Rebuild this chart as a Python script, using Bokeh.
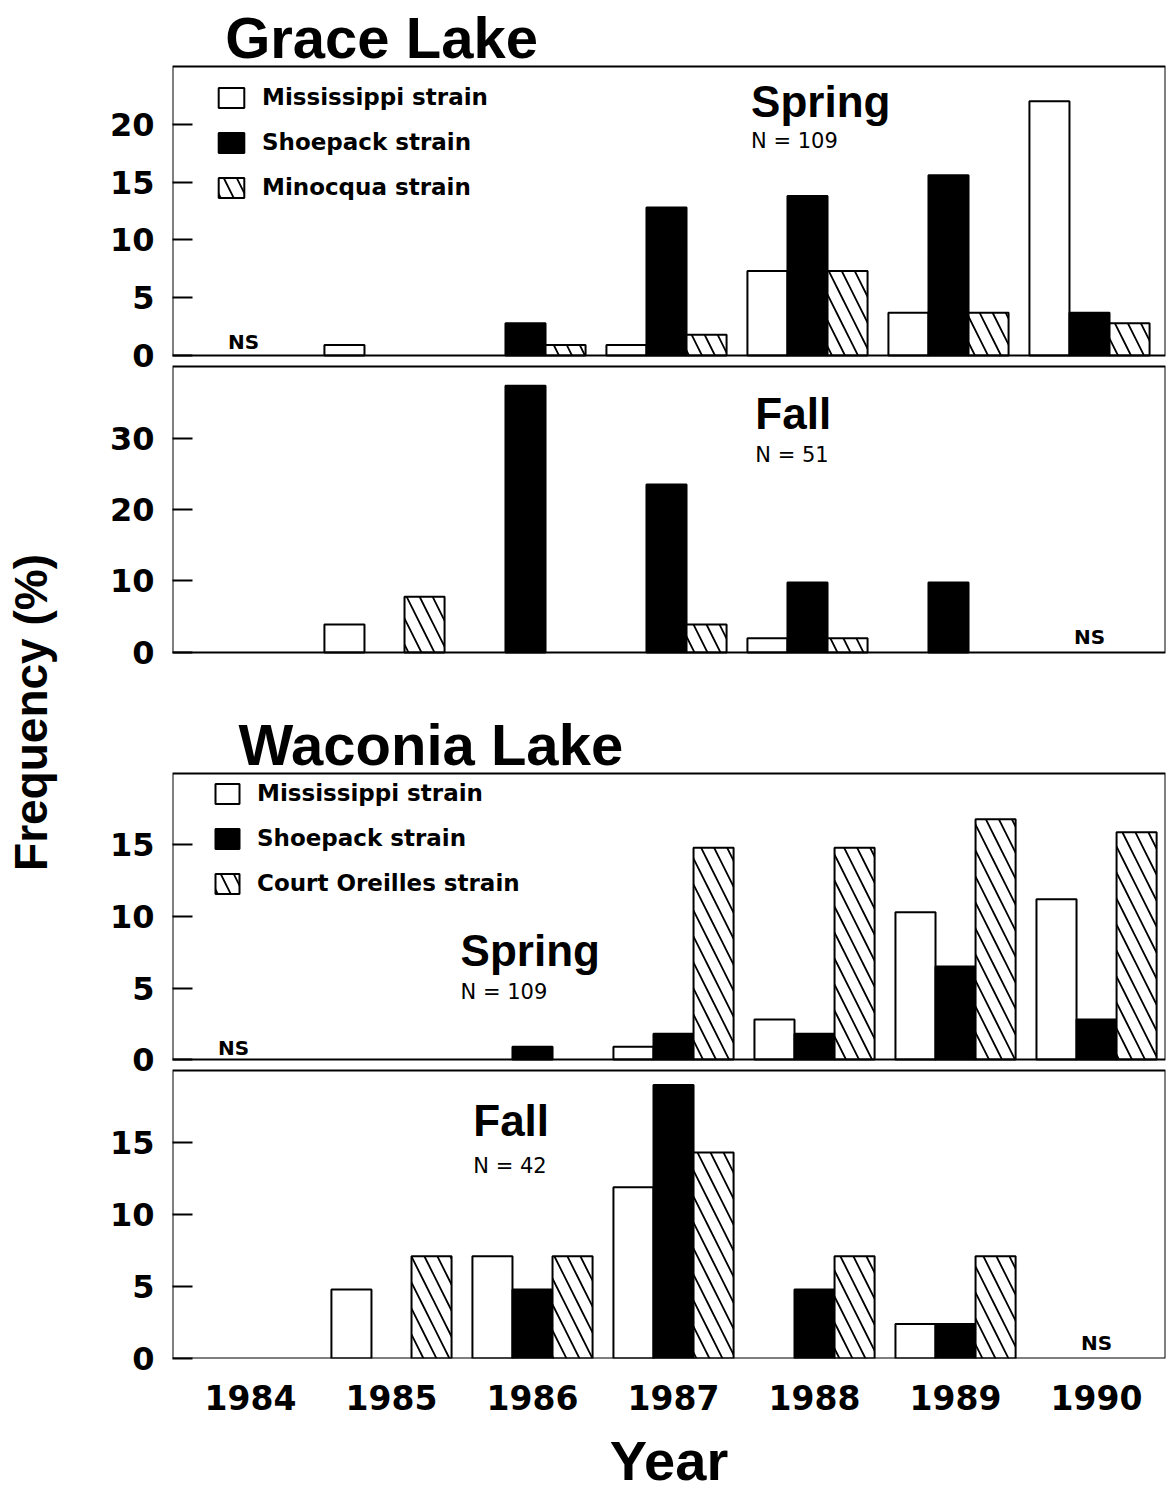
import math
from bokeh.plotting import figure
from bokeh.models import (ColumnDataSource, Range1d, FixedTicker, Label, Legend, LegendItem,
                          LinearAxis, BoxAnnotation)
from bokeh.layouts import row
from bokeh.embed import file_html
from bokeh.resources import INLINE

# ---------------- data (frequency, %) ----------------
years = [1984, 1985, 1986, 1987, 1988, 1989, 1990]
ns = None  # not sampled

# Grace Lake, spring (N = 109)
grace_spring_mississippi = [ns, 0.9, 0.0, 0.9, 7.3, 3.7, 22.0]
grace_spring_shoepack = [ns, 0.0, 2.8, 12.8, 13.8, 15.6, 3.7]
grace_spring_minocqua = [ns, 0.0, 0.9, 1.8, 7.3, 3.7, 2.8]

# Grace Lake, fall (N = 51)
grace_fall_mississippi = [0.0, 3.9, 0.0, 0.0, 2.0, 0.0, ns]
grace_fall_shoepack = [0.0, 0.0, 37.3, 23.5, 9.8, 9.8, ns]
grace_fall_minocqua = [0.0, 7.8, 0.0, 3.9, 2.0, 0.0, ns]

# Waconia Lake, spring (N = 109)
waconia_spring_mississippi = [ns, 0.0, 0.0, 0.9, 2.8, 10.3, 11.2]
waconia_spring_shoepack = [ns, 0.0, 0.9, 1.8, 1.8, 6.5, 2.8]
waconia_spring_court = [ns, 0.0, 0.0, 14.8, 14.8, 16.8, 15.9]

# Waconia Lake, fall (N = 42)
waconia_fall_mississippi = [0.0, 4.8, 7.1, 11.9, 0.0, 2.4, ns]
waconia_fall_shoepack = [0.0, 0.0, 4.8, 19.0, 4.8, 2.4, ns]
waconia_fall_court = [0.0, 7.1, 7.1, 14.3, 7.1, 7.1, ns]

grace_labels = ["Mississippi strain", "Shoepack strain", "Minocqua strain"]
waconia_labels = ["Mississippi strain", "Shoepack strain", "Court Oreilles strain"]

# y ticks of each panel
ticks_grace_spring = [0, 5, 10, 15, 20]
ticks_grace_fall = [0, 10, 20, 30]
ticks_waconia_spring = [0, 5, 10, 15]
ticks_waconia_fall = [0, 5, 10, 15]

# ---------------- styling / layout constants ----------------
BW = 0.284  # bar width in year units
TICK_FONT = "DejaVu Sans"
HEAD_FONT = "Liberation Sans"

STYLES = [
    dict(fill_color="white", line_color="black"),
    dict(fill_color="black", line_color="black"),
    dict(fill_color="white", line_color="black", hatch_pattern="left_diagonal_line",
         hatch_color="black", hatch_scale=26, hatch_weight=1.8),
]

FRAME_W, FRAME_H = 993, 1358          # plotting frame (pixels)
BL, BR = 97, 3
GX = (1983.4965, 1990.539)            # Grace Lake x range
WX = (1983.447, 1990.489)             # Waconia Lake x range

# panel: (top px, bottom px inside frame, y max, y ticks)
PANELS = {
    "A": (66, 355, 25, ticks_grace_spring),
    "B": (366, 652, 40, ticks_grace_fall),
    "C": (773, 1059, 20, ticks_waconia_spring),
    "D": (1070, 1358, 20, ticks_waconia_fall),
}


def panel_range(top, bottom, ymax):
    ppu = (bottom - top) / ymax
    return Range1d(start=-(FRAME_H - bottom) / ppu, end=ymax + top / ppu)


p = figure(frame_width=FRAME_W, frame_height=FRAME_H,
           x_range=Range1d(*GX), y_range=Range1d(start=FRAME_H, end=0),
           toolbar_location=None, output_backend="svg",
           x_axis_location=None, y_axis_location=None,
           min_border_left=BL, min_border_right=BR, min_border_top=0, min_border_bottom=0)
p.outline_line_color = None
p.grid.visible = False
p.background_fill_color = "white"
p.border_fill_color = "white"
p.extra_x_ranges = {"W": Range1d(*WX)}
p.extra_y_ranges = {k: panel_range(t, b, m) for k, (t, b, m, _) in PANELS.items()}

# panel boxes (0 .. y max of each panel's own scale)
for name, (t, b, ymax, ticks) in PANELS.items():
    p.add_layout(BoxAnnotation(bottom=0, top=ymax, y_range_name=name,
                               fill_color=None, fill_alpha=0,
                               line_color="black", line_width=2, line_alpha=1))

# one left axis carrying the ticks of all four panels
tick_pos, tick_lab = [], {}
for name, (t, b, ymax, ticks) in PANELS.items():
    ppu = (b - t) / ymax
    for v in ticks:
        pos = int(round(b - v * ppu))
        tick_pos.append(pos)
        tick_lab[pos] = str(v)

ya = LinearAxis(ticker=FixedTicker(ticks=tick_pos), major_label_overrides=tick_lab)
ya.axis_line_color = None
ya.minor_tick_line_color = None
ya.major_tick_in = 20
ya.major_tick_out = 0
ya.major_tick_line_width = 2
ya.major_tick_line_color = "black"
ya.major_label_standoff = 18
ya.major_label_text_font = TICK_FONT
ya.major_label_text_font_style = "bold"
ya.major_label_text_font_size = "32px"
ya.major_label_text_color = "black"
p.add_layout(ya, "left")

xa = LinearAxis(x_range_name="W", ticker=FixedTicker(ticks=years), axis_label="Year")
xa.axis_line_color = None
xa.minor_tick_line_color = None
xa.major_tick_in = 0
xa.major_tick_out = 0
xa.major_label_standoff = 26
xa.major_label_text_font = TICK_FONT
xa.major_label_text_font_style = "bold"
xa.major_label_text_font_size = "33px"
xa.major_label_text_color = "black"
xa.axis_label_standoff = 16
xa.axis_label_text_font = HEAD_FONT
xa.axis_label_text_font_style = "bold"
xa.axis_label_text_font_size = "56px"
xa.axis_label_text_color = "black"
p.add_layout(xa, "below")


def add_bars(xname, yname, series):
    renderers = []
    for k, vals in enumerate(series):
        off = (k - 1) * BW
        xs = [y + off for y, v in zip(years, vals) if v]
        tops = [v for v in vals if v]
        src = ColumnDataSource(dict(x=xs, top=tops))
        r = p.vbar(x="x", top="top", bottom=0, width=BW, source=src, line_width=2,
                   x_range_name=xname, y_range_name=yname, **STYLES[k])
        renderers.append(r)
    return renderers


def add_legend(renderers, labels, loc, gw):
    items = [LegendItem(label=l, renderers=[r]) for l, r in zip(labels, renderers)]
    lg = Legend(items=items, location=loc, orientation="vertical",
                padding=0, margin=0, spacing=19,
                glyph_width=gw, glyph_height=25, label_height=25, label_standoff=15,
                label_text_font=TICK_FONT, label_text_font_style="bold",
                label_text_font_size="23px", label_text_color="black",
                background_fill_alpha=0, border_line_color=None)
    p.add_layout(lg)


def lift(size_px):
    # screen-pixel lift so that the alphabetic baseline lands where intended
    return round(0.36 * size_px)


def txt(xname, yname, x, y, text, size_px, font=TICK_FONT, style="bold",
        align="left", extra=0):
    p.add_layout(Label(x=x, y=y, x_range_name=xname, y_range_name=yname,
                       y_offset=lift(size_px) + extra, text=text,
                       text_font=font, text_font_style=style,
                       text_font_size=f"{size_px}px", text_color="black",
                       text_align=align, text_baseline="alphabetic"))


# ---------------- Grace Lake ----------------
rA = add_bars("default", "A", [grace_spring_mississippi, grace_spring_shoepack, grace_spring_minocqua])
add_legend(rA, grace_labels, (43, FRAME_H - 200), 32)
txt("default", "A", 1983.87, 25, "Grace Lake", 58, font=HEAD_FONT, extra=8)
txt("default", "A", 1987.6, 20.55, "Spring", 44, font=HEAD_FONT)
txt("default", "A", 1987.6, 17.9, "N = 109", 21, style="normal")
txt("default", "A", 1984.0, 0.6, "NS", 20, align="center")

add_bars("default", "B", [grace_fall_mississippi, grace_fall_shoepack, grace_fall_minocqua])
txt("default", "B", 1987.63, 31.2, "Fall", 44, font=HEAD_FONT)
txt("default", "B", 1987.63, 26.5, "N = 51", 21, style="normal")
txt("default", "B", 1990.0, 1.2, "NS", 20, align="center")

# ---------------- Waconia Lake ----------------
rC = add_bars("W", "C", [waconia_spring_mississippi, waconia_spring_shoepack, waconia_spring_court])
add_legend(rC, waconia_labels, (40, FRAME_H - 896), 30)
txt("W", "C", 1983.915, 20, "Waconia Lake", 58, font=HEAD_FONT, extra=8)
txt("W", "C", 1985.49, 6.47, "Spring", 44, font=HEAD_FONT)
txt("W", "C", 1985.49, 4.13, "N = 109", 21, style="normal")
txt("W", "C", 1983.88, 0.28, "NS", 20, align="center")

add_bars("W", "D", [waconia_fall_mississippi, waconia_fall_shoepack, waconia_fall_court])
txt("W", "D", 1985.58, 15.4, "Fall", 44, font=HEAD_FONT)
txt("W", "D", 1985.58, 12.8, "N = 42", 21, style="normal")
txt("W", "D", 1990.0, 0.56, "NS", 20, align="center")

# ---------------- shared y label (frame rows aligned with the main plot) ----------------
pL = figure(frame_width=75, frame_height=FRAME_H, x_range=Range1d(0, 75),
            y_range=Range1d(start=FRAME_H, end=0),
            toolbar_location=None, output_backend="svg",
            x_axis_location=None, y_axis_location=None, min_border=0)
pL.outline_line_color = None
pL.grid.visible = False
pL.add_layout(Label(x=30, y=712, text="Frequency (%)", angle=math.pi / 2,
                    text_font=HEAD_FONT, text_font_style="bold", text_font_size="46px",
                    text_color="black", text_align="center", text_baseline="alphabetic"))

layout = row(pL, p, spacing=0)

open("out.html", "w").write(file_html(layout, INLINE))
